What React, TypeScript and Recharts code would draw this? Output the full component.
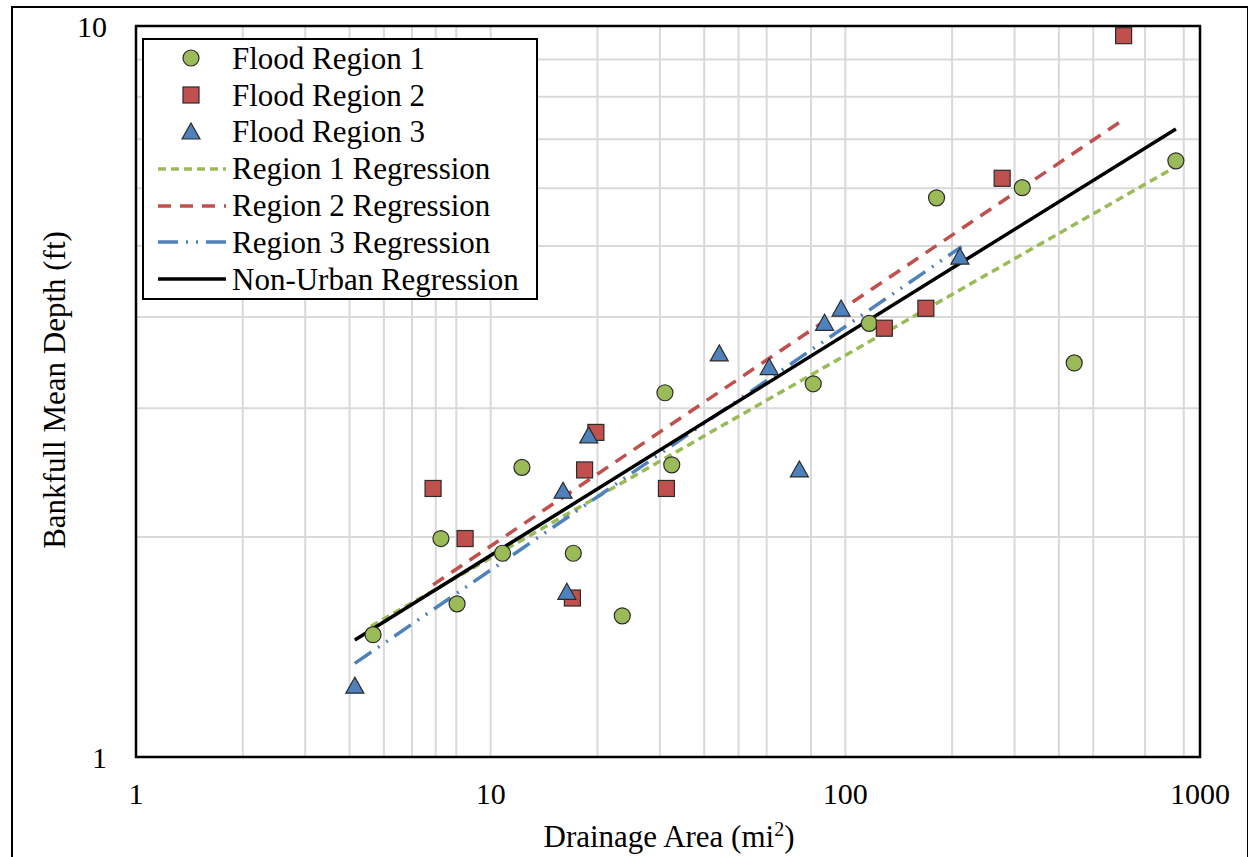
import {
  CartesianGrid,
  ComposedChart,
  Label,
  Legend,
  Line,
  ReferenceArea,
  Scatter,
  XAxis,
  YAxis,
} from 'recharts';

const FONT = '"Liberation Serif", "Times New Roman", serif';

// Flood Region 1 sites (drainage area mi2 / bankfull mean depth ft)
const region1Area = [4.66, 7.24, 8.04, 10.8, 12.25, 17.1, 23.5, 31.0, 32.4, 81.2, 116.8, 180.8, 315.4, 441.9, 855];
const region1Depth = [1.47, 1.99, 1.62, 1.9, 2.49, 1.9, 1.56, 3.15, 2.51, 3.24, 3.92, 5.82, 6.01, 3.46, 6.54];

// Flood Region 2 sites
const region2Area = [6.88, 8.47, 17.0, 18.4, 19.8, 31.3, 128.8, 168.7, 276.8, 609];
const region2Depth = [2.33, 1.99, 1.65, 2.47, 2.78, 2.33, 3.86, 4.11, 6.19, 9.7];

// Flood Region 3 sites
const region3Area = [4.14, 16.0, 16.4, 18.9, 44.1, 61.0, 74.2, 87.4, 97.3, 210.4];
const region3Depth = [1.25, 2.31, 1.68, 2.75, 3.56, 3.41, 2.47, 3.92, 4.1, 4.83];

// regression line end points
const reg1Area = [4.6, 840];
const reg1Depth = [1.51, 6.39];
const reg2Area = [6.88, 592];
const reg2Depth = [1.72, 7.38];
const reg3Area = [4.14, 212.7];
const reg3Depth = [1.343, 4.99];
const nonUrbanArea = [4.14, 855];
const nonUrbanDepth = [1.446, 7.23];

const xTicks = [1, 10, 100, 1000];
const yTicks = [1, 10];
const xGrid = [2, 3, 4, 5, 6, 7, 8, 9, 10, 20, 30, 40, 50, 60, 70, 80, 90, 100, 200, 300, 400, 500, 600, 700, 800, 900];
const yGrid = [2, 3, 4, 5, 6, 7, 8, 9];

const toPoints = (xs: number[], ys: number[]) => xs.map((x, i) => ({ x, y: ys[i] }));

const GREEN = '#9BBB59';
const RED = '#C0504D';
const BLUE = '#4F81BD';
const EDGE = '#2b2b2b';

const DASH1 = '8 5';
const DASH2 = '13 9';
const DASH3 = '20 8 2 8 2 8';

const Circle = ({ cx, cy }: any) => <circle cx={cx} cy={cy} r={8} fill={GREEN} stroke={EDGE} strokeWidth={1.2} />;
const Square = ({ cx, cy }: any) => (
  <rect x={cx - 8} y={cy - 8} width={16} height={16} fill={RED} stroke={EDGE} strokeWidth={1.2} />
);
const Triangle = ({ cx, cy }: any) => (
  <path d={`M${cx},${cy - 9}L${cx + 9},${cy + 7}L${cx - 9},${cy + 7}Z`} fill={BLUE} stroke={EDGE} strokeWidth={1.2} />
);

const legendRows = [
  { name: 'Flood Region 1', kind: 'circle' },
  { name: 'Flood Region 2', kind: 'square' },
  { name: 'Flood Region 3', kind: 'triangle' },
  { name: 'Region 1 Regression', kind: 'line', color: GREEN, dash: DASH1 },
  { name: 'Region 2 Regression', kind: 'line', color: RED, dash: DASH2 },
  { name: 'Region 3 Regression', kind: 'line', color: BLUE, dash: DASH3 },
  { name: 'Non-Urban Regression', kind: 'line', color: '#000', dash: undefined },
];

const LegendBox = () => (
  <div
    style={{
      border: '2px solid #000',
      background: '#fff',
      fontFamily: FONT,
      fontSize: 31,
      color: '#000',
      boxSizing: 'border-box',
      width: 396,
      height: 262,
    }}
  >
    {legendRows.map((r) => (
      <div key={r.name} style={{ display: 'flex', alignItems: 'center', height: 36.8 }}>
        <svg width={88} height={36} style={{ flex: 'none' }}>
          {r.kind === 'circle' && <Circle cx={47} cy={18} />}
          {r.kind === 'square' && <Square cx={47} cy={18} />}
          {r.kind === 'triangle' && <Triangle cx={47} cy={18} />}
          {r.kind === 'line' && (
            <line x1={14} x2={82} y1={18} y2={18} stroke={r.color} strokeWidth={3.5} strokeDasharray={r.dash} />
          )}
        </svg>
        <span style={{ whiteSpace: 'nowrap', lineHeight: 1 }}>{r.name}</span>
      </div>
    ))}
  </div>
);

export default function App() {
  return (
    <div
      style={{
        position: 'absolute',
        left: 0,
        top: 0,
        width: 1248,
        height: 857,
        background: '#fff',
        overflow: 'hidden',
      }}
    >
      <ComposedChart width={1248} height={857} margin={{ top: 26, right: 48, left: 0, bottom: 0 }}>
        <CartesianGrid
          stroke="#d9d9d9"
          strokeWidth={2}
          horizontalValues={yGrid}
          verticalValues={xGrid}
        />
        <XAxis
          dataKey="x"
          type="number"
          scale="log"
          domain={[1, 1000]}
          ticks={xTicks}
          allowDataOverflow
          height={100}
          tickSize={0}
          tickMargin={26}
          axisLine={{ stroke: '#000', strokeWidth: 2 }}
          tick={{ fill: '#000', fontSize: 30, fontFamily: FONT }}
        >
          <Label
            content={() => (
              <text x={669} y={847} textAnchor="middle" fontFamily={FONT} fontSize={31} fill="#000">
                Drainage Area (mi<tspan fontSize={20} dy={-11}>2</tspan>
                <tspan dy={11}>)</tspan>
              </text>
            )}
          />
        </XAxis>
        <YAxis
          dataKey="y"
          type="number"
          scale="log"
          domain={[1, 10]}
          ticks={yTicks}
          allowDataOverflow
          width={136}
          tickSize={0}
          tickMargin={29}
          axisLine={{ stroke: '#000', strokeWidth: 2 }}
          tick={{ fill: '#000', fontSize: 30, fontFamily: FONT }}
        >
          <Label
            content={() => (
              <text
                x={65}
                y={390}
                transform="rotate(-90 65 390)"
                textAnchor="middle"
                fontFamily={FONT}
                fontSize={31}
                fill="#000"
              >
                Bankfull Mean Depth (ft)
              </text>
            )}
          />
        </YAxis>
        <ReferenceArea x1={1} x2={1000} y1={1} y2={10} fill="none" stroke="#000" strokeWidth={2.5} />

        <Line
          data={toPoints(reg1Area, reg1Depth)}
          dataKey="y"
          stroke={GREEN}
          strokeWidth={3.5}
          strokeDasharray={DASH1}
          dot={false}
          isAnimationActive={false}
        />
        <Line
          data={toPoints(reg2Area, reg2Depth)}
          dataKey="y"
          stroke={RED}
          strokeWidth={3.5}
          strokeDasharray={DASH2}
          dot={false}
          isAnimationActive={false}
        />
        <Line
          data={toPoints(reg3Area, reg3Depth)}
          dataKey="y"
          stroke={BLUE}
          strokeWidth={3.5}
          strokeDasharray={DASH3}
          dot={false}
          isAnimationActive={false}
        />
        <Line
          data={toPoints(nonUrbanArea, nonUrbanDepth)}
          dataKey="y"
          stroke="#000"
          strokeWidth={3.5}
          dot={false}
          isAnimationActive={false}
        />

        <Scatter data={toPoints(region1Area, region1Depth)} dataKey="y" shape={Circle} isAnimationActive={false} />
        <Scatter data={toPoints(region2Area, region2Depth)} dataKey="y" shape={Square} isAnimationActive={false} />
        <Scatter data={toPoints(region3Area, region3Depth)} dataKey="y" shape={Triangle} isAnimationActive={false} />

        <Legend
          layout="horizontal"
          verticalAlign="middle"
          align="center"
          wrapperStyle={{ left: 142, top: 38, width: 396, height: 262 }}
          content={() => <LegendBox />}
        />
      </ComposedChart>
      {/* outer frame of the figure */}
      <div
        style={{
          position: 'absolute',
          left: 11,
          top: 6,
          width: 1238,
          height: 900,
          border: '2px solid #000',
          boxSizing: 'border-box',
          pointerEvents: 'none',
        }}
      />
    </div>
  );
}
